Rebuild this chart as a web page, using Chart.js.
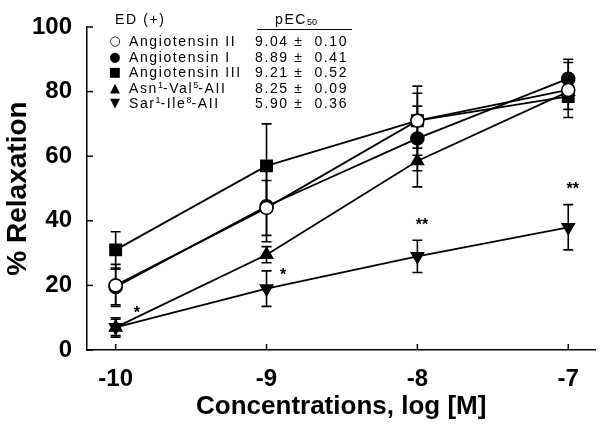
<!DOCTYPE html>
<html>
<head>
<meta charset="utf-8">
<script src="https://cdn.jsdelivr.net/npm/chart.js@4"></script>
<style>
  body { margin: 0; background: #fff; }
  #wrap { position: relative; width: 605px; height: 425px; }
  #chart { position: absolute; left: 0; top: 0; }
  .lg { position: absolute; font-family: "Liberation Sans", Arial, sans-serif; font-size: 14px;
        line-height: 16px; color: #000; letter-spacing: 1.6px; white-space: nowrap; }
  .sym { position: absolute; width: 14px; text-align: center; font-family: "DejaVu Sans", sans-serif;
         font-size: 13px; line-height: 16px; color: #000; }
  .lg sup { font-size: 9px; vertical-align: 5px; line-height: 0; letter-spacing: 0; }
  .lg sub { font-size: 9px; vertical-align: -1px; line-height: 0; letter-spacing: 0; }
  #rule { position: absolute; left: 257px; top: 29px; width: 95px; border-top: 1.5px solid #000; }
</style>
</head>
<body>
<div id="wrap">
  <canvas id="chart" width="605" height="425"></canvas>

  <div class="lg" style="left:115px; top:11px;">ED (+)</div>
  <div class="lg" style="left:275px; top:11px;">pEC<sub>50</sub></div>
  <div id="rule"></div>

  <div class="sym" style="left:108px; top:33px;">○</div>
  <div class="sym" style="left:108px; top:48.5px;">●</div>
  <div class="sym" style="left:108px; top:64px;">■</div>
  <div class="sym" style="left:108px; top:79.5px;">▲</div>
  <div class="sym" style="left:108px; top:95px;">▼</div>

  <div class="lg" style="left:129px; top:33px;">Angiotensin II</div>
  <div class="lg" style="left:129px; top:48.5px;">Angiotensin I</div>
  <div class="lg" style="left:129px; top:64px;">Angiotensin III</div>
  <div class="lg" style="left:129px; top:79.5px;">Asn<sup>1</sup>-Val<sup>5</sup>-AII</div>
  <div class="lg" style="left:129px; top:95px;">Sar<sup>1</sup>-Ile<sup>8</sup>-AII</div>

  <div class="lg" style="left:255px; top:33px;">9.04 ± &nbsp;0.10</div>
  <div class="lg" style="left:255px; top:48.5px;">8.89 ± &nbsp;0.41</div>
  <div class="lg" style="left:255px; top:64px;">9.21 ± &nbsp;0.52</div>
  <div class="lg" style="left:255px; top:79.5px;">8.25 ± &nbsp;0.09</div>
  <div class="lg" style="left:255px; top:95px;">5.90 ± &nbsp;0.36</div>
</div>

<script>
/* Data */

const conc = [-10, -9, -8, -7];
const xTicks = [-10, -9, -8, -7];

const angII = [20, 44, 71, 80.5];
const angIIErr = [6.5, 8.5, 10.7, 8.5];

const angI = [19.5, 44.5, 65.5, 84];
const angIErr = [5.5, 11, 10, 6];

const angIII = [31, 57, 71, 78.5];
const angIIIErr = [5.6, 13, 8.5, 4];

const asnVal = [7, 29.5, 58.5, 80];
const asnValErr = [2.5, 2.5, 8, 3];

const sarIle = [7, 19, 29, 38];
const sarIleErr = [3, 5.5, 5, 7];

/* significance marks: [x, y, text] */
const marks = [
    [-9.86, 11.3, "*"],
    [-8.89, 22.9, "*"],
    [-7.97, 38.4, "**"],
    [-6.97, 49.7, "**"]
];


/* Helpers */

const toPoints = values => conc.map((x, i) => ({ x: x, y: values[i] }));

const series = [
    { label: "Angiotensin II", values: angII, err: angIIErr, style: "circle", radius: 6.5, fill: "#fff", rot: 0 },
    { label: "Angiotensin I", values: angI, err: angIErr, style: "circle", radius: 6.5, fill: "#000", rot: 0 },
    { label: "Angiotensin III", values: angIII, err: angIIIErr, style: "rect", radius: 8, fill: "#000", rot: 0 },
    { label: "Asn1-Val5-AII", values: asnVal, err: asnValErr, style: "triangle", radius: 7, fill: "#000", rot: 0 },
    { label: "Sar1-Ile8-AII", values: sarIle, err: sarIleErr, style: "triangle", radius: 7, fill: "#000", rot: 180 }
];


/* Error bars */

const errorBars = {
    id: "errorBars",
    beforeDatasetsDraw(chart) {
        const ctx = chart.ctx;
        const xs = chart.scales.x;
        const ys = chart.scales.y;
        ctx.save();
        ctx.strokeStyle = "#000";
        ctx.lineWidth = 1.6;
        series.forEach(s => {
            s.values.forEach((v, i) => {
                const px = xs.getPixelForValue(conc[i]);
                const top = ys.getPixelForValue(v + s.err[i]);
                const bot = ys.getPixelForValue(v - s.err[i]);
                ctx.beginPath();
                ctx.moveTo(px, top);
                ctx.lineTo(px, bot);
                ctx.moveTo(px - 5, top);
                ctx.lineTo(px + 5, top);
                ctx.moveTo(px - 5, bot);
                ctx.lineTo(px + 5, bot);
                ctx.stroke();
            });
        });
        ctx.restore();
    }
};


/* Inward ticks and star marks */

const decorations = {
    id: "decorations",
    afterDraw(chart) {
        const ctx = chart.ctx;
        const xs = chart.scales.x;
        const ys = chart.scales.y;
        const area = chart.chartArea;
        ctx.save();
        ctx.strokeStyle = "#000";
        ctx.lineWidth = 1.5;
        ys.ticks.forEach(t => {
            const py = ys.getPixelForValue(t.value);
            ctx.beginPath();
            ctx.moveTo(area.left, py);
            ctx.lineTo(area.left + 6, py);
            ctx.stroke();
        });
        xs.ticks.forEach(t => {
            const px = xs.getPixelForValue(t.value);
            ctx.beginPath();
            ctx.moveTo(px, area.bottom);
            ctx.lineTo(px, area.bottom - 6);
            ctx.stroke();
        });
        ctx.fillStyle = "#000";
        ctx.font = "bold 16px 'Liberation Sans', Arial, sans-serif";
        ctx.textAlign = "center";
        ctx.textBaseline = "middle";
        marks.forEach(m => {
            ctx.fillText(m[2], xs.getPixelForValue(m[0]), ys.getPixelForValue(m[1]));
        });
        ctx.restore();
    }
};


/* Create Chart */

const tickFont = { family: "'Liberation Sans', Arial, sans-serif", size: 24, weight: "bold", lineHeight: 1 };
const xTitleFont = { family: "'Liberation Sans', Arial, sans-serif", size: 26, weight: "bold", lineHeight: 1 };
const yTitleFont = { family: "'Liberation Sans', Arial, sans-serif", size: 28, weight: "bold", lineHeight: 1 };

new Chart(document.getElementById("chart"), {

    type: "scatter",

    data: {
        datasets: series.map(s => ({
            label: s.label,
            data: toPoints(s.values),
            showLine: true,
            borderColor: "#000",
            borderWidth: 1.8,
            pointStyle: s.style,
            pointRotation: s.rot,
            pointRadius: s.radius,
            pointHoverRadius: s.radius,
            pointBackgroundColor: s.fill,
            pointBorderColor: "#000",
            pointBorderWidth: 1.6
        }))
    },

    options: {
        responsive: false,
        animation: false,
        events: [],
        layout: { padding: { top: 24, right: 5, left: 0, bottom: 0 } },
        plugins: {
            legend: { display: false },
            tooltip: { enabled: false }
        },
        scales: {
            x: {
                type: "linear",
                min: -10.19,
                max: -6.82,
                afterBuildTicks: scale => { scale.ticks = xTicks.map(v => ({ value: v })); },
                afterFit: scale => { scale.height = 75; },
                grid: { display: false, drawTicks: false },
                border: { display: true, color: "#000", width: 1.5 },
                ticks: { color: "#000", font: tickFont, padding: 17, maxRotation: 0 },
                title: { display: true, text: "Concentrations, log [M]", color: "#000", font: xTitleFont, padding: { top: 0, bottom: 5 } }
            },
            y: {
                min: 0,
                max: 100,
                afterFit: scale => { scale.width = 87; },
                grid: { display: false, drawTicks: false },
                border: { display: true, color: "#000", width: 1.5 },
                ticks: { stepSize: 20, color: "#000", font: tickFont, padding: 15 },
                title: { display: true, text: "% Relaxation", color: "#000", font: yTitleFont, padding: { top: 4, bottom: 0 } }
            }
        }
    },

    plugins: [errorBars, decorations]

});
</script>
</body>
</html>
